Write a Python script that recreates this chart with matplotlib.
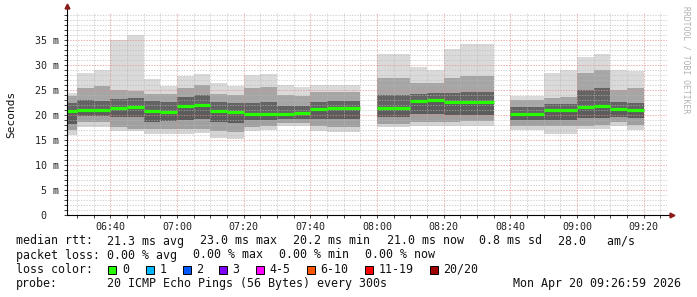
import matplotlib
matplotlib.use("Agg")
import matplotlib.pyplot as plt
import matplotlib.dates as mdates
from matplotlib.ticker import MultipleLocator
from matplotlib.patches import Rectangle
import numpy as np
from datetime import datetime, timedelta

nan = np.nan

# 5 minute intervals (start time), NaN = no data
starts = ["06:25", "06:30", "06:35", "06:40", "06:45", "06:50", "06:55",
          "07:00", "07:05", "07:10", "07:15", "07:20", "07:25", "07:30",
          "07:35", "07:40", "07:45", "07:50", "07:55", "08:00", "08:05",
          "08:10", "08:15", "08:20", "08:25", "08:30", "08:35", "08:40",
          "08:45", "08:50", "08:55", "09:00", "09:05", "09:10", "09:15"]

# ping rtt distribution per interval (ms)
rtt_min = [16.0, 17.6, 17.6, 16.8, 16.8, 16.3, 16.3, 16.2, 16.5, 15.4, 15.3, 16.8,
           17.0, 17.9, 17.9, 16.8, 16.7, 16.7, nan, 17.6, 17.6, 17.8, 17.8, 17.8,
           17.8, 17.8, nan, 17.0, 17.0, 16.2, 16.2, 17.2, 17.2, 17.8, 17.0]
rtt_p10 = [17.0, 18.6, 18.6, 17.6, 17.3, 17.3, 17.3, 17.2, 17.3, 16.8, 16.6, 17.6,
           17.8, 18.5, 18.4, 17.8, 17.7, 17.7, nan, 18.3, 18.3, 18.6, 18.6, 18.6,
           18.8, 18.8, nan, 17.8, 17.8, 17.8, 17.8, 17.8, 18.0, 18.6, 18.0]
rtt_p25 = [18.2, 19.8, 19.9, 19.6, 19.7, 18.7, 18.8, 19.0, 19.2, 18.6, 18.5, 19.0,
           19.0, 19.2, 19.3, 19.3, 19.3, 19.3, nan, 19.7, 19.7, 20.2, 20.3, 20.0,
           20.0, 20.0, nan, 19.0, 19.0, 19.0, 19.0, 19.5, 19.5, 19.7, 19.5]
rtt_med = [20.9, 21.1, 21.1, 21.5, 21.7, 20.8, 20.6, 21.9, 22.1, 20.9, 20.6, 20.3,
           20.2, 20.3, 20.5, 21.2, 21.4, 21.4, nan, 21.5, 21.5, 22.9, 23.0, 22.6,
           22.6, 22.6, nan, 20.3, 20.3, 21.0, 21.1, 21.7, 21.8, 21.2, 21.0]
rtt_p75 = [22.4, 23.0, 22.8, 23.2, 23.4, 22.8, 22.6, 23.6, 24.0, 22.6, 22.4, 22.5,
           22.6, 21.8, 21.8, 22.6, 22.9, 22.9, nan, 24.0, 24.0, 24.3, 24.5, 24.5,
           24.6, 24.6, nan, 21.7, 21.7, 22.3, 22.3, 25.0, 25.5, 22.6, 22.5]
rtt_p90 = [23.8, 25.5, 25.8, 25.0, 24.8, 24.2, 24.2, 25.5, 26.0, 24.2, 24.0, 25.5,
           25.6, 24.0, 23.8, 24.6, 24.7, 24.7, nan, 27.5, 27.5, 26.5, 26.5, 27.5,
           27.8, 27.8, nan, 23.0, 23.0, 23.5, 23.6, 28.5, 29.0, 25.0, 25.5]
rtt_max = [24.5, 28.4, 29.0, 35.0, 36.0, 27.3, 25.8, 27.9, 28.2, 26.4, 25.9, 28.1,
           28.2, 26.1, 25.7, 26.0, 26.0, 26.0, nan, 32.3, 32.3, 29.6, 29.1, 33.2,
           34.2, 34.2, nan, 23.8, 23.8, 28.4, 29.0, 31.7, 32.2, 29.1, 28.8]

ytick_vals = [0, 5, 10, 15, 20, 25, 30, 35]
ytick_labels = ["0  ", "5 m", "10 m", "15 m", "20 m", "25 m", "30 m", "35 m"]

loss_labels = ["0", "1", "2", "3", "4-5", "6-10", "11-19", "20/20"]
loss_colors = ["#26ff00", "#00b8ff", "#0059ff", "#7e00ff", "#ff00ff",
               "#ff5500", "#ff0000", "#a10000"]

W, H = 697, 297
mono = "DejaVu Sans Mono"
day = datetime(2026, 4, 20)
t = [day + timedelta(hours=int(s[:2]), minutes=int(s[3:])) for s in starts]
step = 5 / 1440.0

fig = plt.figure(figsize=(W / 100, H / 100), dpi=100)
ax = fig.add_axes([67 / W, 82 / H, 600 / W, 202 / H])

x = mdates.date2num(t)
vals = [np.array(v) for v in (rtt_min, rtt_p10, rtt_p25, rtt_med, rtt_p75, rtt_p90, rtt_max)]
shades = ["#d4d4d4", "#a0a0a0", "#5c5c5c", "#646464", "#a6a6a6", "#dadada"]
for i, c in enumerate(shades):
    lo, hi = vals[i], vals[i + 1]
    ax.bar(x, hi - lo, bottom=lo, width=step, align="edge", color=c,
           linewidth=0, zorder=1)
ax.hlines(vals[3], x, x + step, colors="#26ff00", linewidth=2.3, zorder=4)

ax.set_xlim(day + timedelta(hours=6, minutes=27), day + timedelta(hours=9, minutes=27))
ax.set_ylim(0, 40.4)

ax.xaxis.set_major_locator(mdates.MinuteLocator(byminute=[0, 20, 40]))
ax.xaxis.set_minor_locator(mdates.MinuteLocator(byminute=range(0, 60, 5)))
ax.xaxis.set_major_formatter(mdates.DateFormatter("%H:%M"))
ax.set_yticks(ytick_vals)
ax.set_yticklabels(ytick_labels)
ax.yaxis.set_minor_locator(MultipleLocator(1))

for lab in ax.get_xticklabels() + ax.get_yticklabels():
    lab.set_fontfamily(mono)
    lab.set_fontsize(7.2)
    lab.set_color("#222222")
ax.tick_params(which="both", length=2, width=0.7, color="#444444", pad=3.5)
ax.tick_params(axis="x", which="both", pad=3)

ax.grid(which="minor", color="#b8b8b8", linestyle=(0, (1.3, 1.3)), linewidth=0.75, alpha=0.6, zorder=3)
ax.grid(which="major", color="#e48c8c", linestyle=(0, (1.3, 1.3)), linewidth=0.75, alpha=0.7, zorder=3)
ax.set_axisbelow(False)

for s in ax.spines.values():
    s.set_visible(False)
ax.plot([0, 0], [0, 1.03], transform=ax.transAxes, color="black", lw=0.8, clip_on=False, zorder=5)
ax.plot([0, 1.008], [0, 0], transform=ax.transAxes, color="black", lw=0.8, clip_on=False, zorder=5)
ax.plot([0], [1.035], marker="^", markersize=3.5, color="#8b1a1a", transform=ax.transAxes, clip_on=False, zorder=6)
ax.plot([1.009], [0], marker=">", markersize=3.5, color="#8b1a1a", transform=ax.transAxes, clip_on=False, zorder=6)


def ftext(px, py, s, **kw):
    kw.setdefault("family", mono)
    kw.setdefault("fontsize", 8.4)
    kw.setdefault("color", "#111111")
    fig.text(px / W, 1 - py / H, s, va="center", **kw)


ftext(11, 114, "Seconds", rotation=90, ha="center", fontsize=8)
ftext(686, 60, "RRDTOOL / TOBI OETIKER", rotation=-90, ha="center",
      fontsize=5.8, color="#b0b0b0")

line1 = [(16, "median rtt:"), (107.3, "21.3 ms avg"), (200, "23.0 ms max"),
         (293.3, "20.2 ms min"), (386.7, "21.0 ms now"), (479.3, "0.8 ms sd"),
         (558.3, "28.0   am/s")]
line2 = [(16, "packet loss:"), (107.3, "0.00 % avg"), (193.3, "0.00 % max"),
         (279.3, "0.00 % min"), (365, "0.00 % now")]
for px, s in line1:
    ftext(px, 241, s)
for px, s in line2:
    ftext(px, 255, s)

ftext(16, 269.3, "loss color:")
box_x = [108.3, 145.7, 182.7, 219, 256, 306.7, 365, 430]
for bx, lab, col in zip(box_x, loss_labels, loss_colors):
    fig.add_artist(Rectangle((bx / W, 1 - 273.5 / H), 8 / W, 8 / H,
                             transform=fig.transFigure, facecolor=col,
                             edgecolor="black", linewidth=0.7))
    ftext(bx + 13.5, 269.3, lab)

ftext(16, 283.3, "probe:")
ftext(107.3, 283.3, "20 ICMP Echo Pings (56 Bytes) every 300s")
ftext(512.7, 283.3, "Mon Apr 20 09:26:59 2026")

fig.savefig("out.png", dpi=100, facecolor="white")
